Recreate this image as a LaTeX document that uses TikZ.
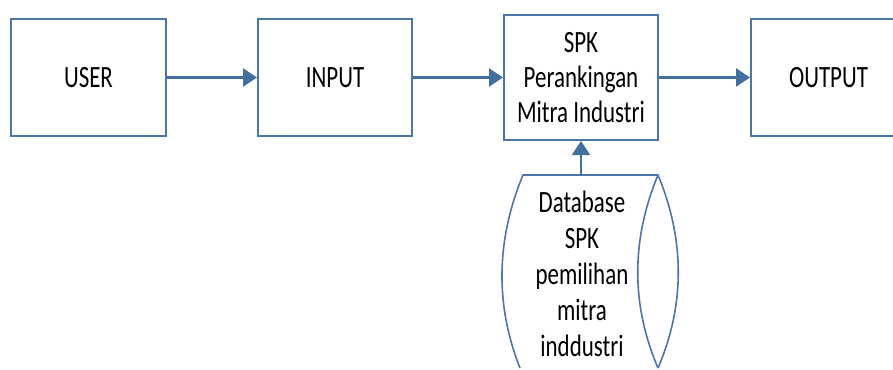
\documentclass[tikz,border=0pt]{standalone}
\usepackage{fontspec}
\setmainfont{Carlito}[FakeStretch=0.74]
\usetikzlibrary{arrows.meta}
\definecolor{edgeblue}{HTML}{4A76A8}
\definecolor{arrowblue}{HTML}{41709F}
\tikzset{
  block/.style={draw=edgeblue, line width=2pt, fill=white, inner sep=0pt,
    align=center, text=black, font=\fontsize{31}{35}\selectfont},
  flow/.style={draw=arrowblue, line width=2.4pt,
    -{Triangle[length=14pt,width=18pt]}},
  store/.style={draw=edgeblue, line width=1.6pt, fill=white}
}
\begin{document}
\begin{tikzpicture}[x=1pt,y=-1pt]
  \useasboundingbox (0,0) rectangle (893,369);

  % process blocks
  \node[block, minimum width=155pt, minimum height=117pt] (user)   at (88.5,77.5) {USER};
  \node[block, minimum width=154pt, minimum height=117pt] (input)  at (335,77.5)  {INPUT};
  \node[block, minimum width=154pt, minimum height=125pt] (spk)    at (581,77.5)
    {SPK\\Perankingan\\Mitra Industri};
  \node[block, minimum width=155pt, minimum height=117pt] (output) at (828.5,77.5) {OUTPUT};

  % stored-data symbol
  \coordinate (dbtl) at (523,175);
  \coordinate (dbtr) at (658,175);
  \coordinate (dbbl) at (520,368);
  \coordinate (dbbr) at (658,368);
  \draw[store] (dbbl) .. controls (495,305) and (496,240) .. (dbtl) -- (dbtr)
    .. controls (685,240) and (685,305) .. (dbbr);
  \draw[store] (dbtr) .. controls (631,240) and (631,305) .. (dbbr);
  \node[align=center, text=black, font=\fontsize{31}{36}\selectfont] (db) at (582,274)
    {Database\\SPK\\pemilihan\\mitra\\inddustri};
  \coordinate (dbtop) at (581,175);

  % data flow
  \draw[flow] (user) -- (input);
  \draw[flow] (input) -- (spk);
  \draw[flow] (spk) -- (output);
  \draw[flow] (dbtop) -- (spk.south -| dbtop);
\end{tikzpicture}
\end{document}
